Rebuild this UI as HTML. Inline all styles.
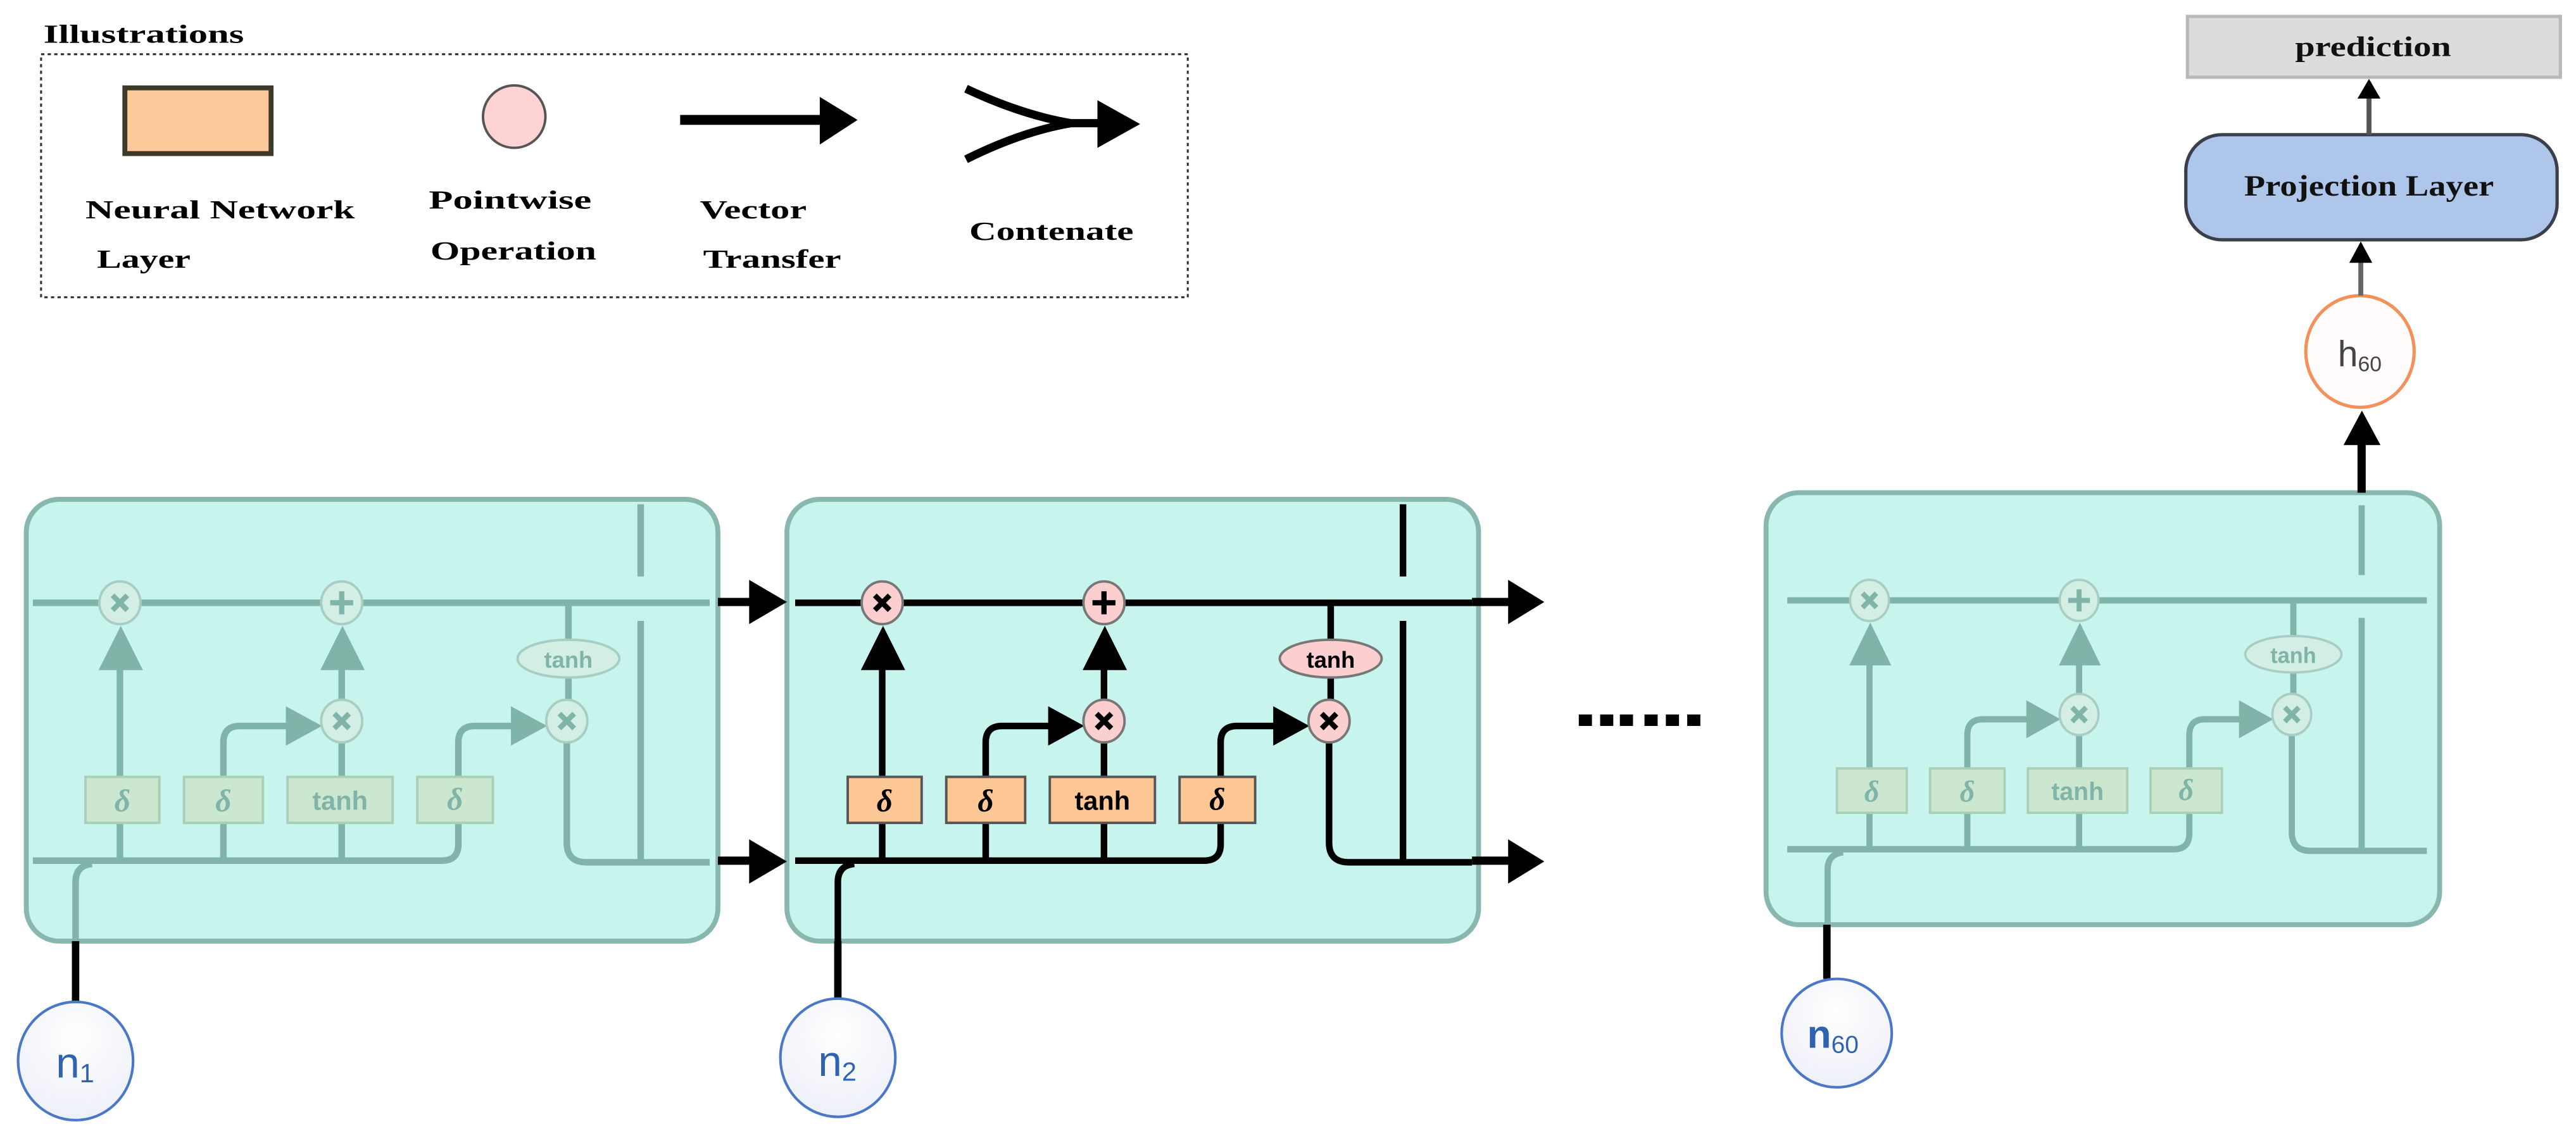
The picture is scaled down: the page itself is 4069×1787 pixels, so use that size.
<!DOCTYPE html>
<html><head><meta charset="utf-8"><style>
html,body{margin:0;padding:0;background:#fff;}
svg{display:block;}
.lg{font-family:"Liberation Serif",serif;font-weight:bold;font-size:16px;fill:#000;}
</style></head><body>
<svg width="4069" height="1787" viewBox="0 0 1568 688.6" xmlns="http://www.w3.org/2000/svg">
<defs>
<g id="cell">
 <g fill="none" stroke="var(--ln)" stroke-width="4">
  <path d="M484 367 H896"/>
  <path d="M484 524 H733 Q743 524 743 514 V501"/>
  <path d="M809 452 V513 Q809 525 821 525 H896"/>
  <path d="M810 367 V389"/>
  <path d="M810 412 V426"/>
  <path d="M854 307 V351"/>
  <path d="M854 378 V524"/>
  <path d="M537 524 V501 M537 473 V406"/>
  <path d="M600 524 V501 M600 473 V452 Q600 442 610 442 H640"/>
  <path d="M672 524 V501 M672 473 V452 M672 426 V406"/>
  <path d="M743 473 V452 Q743 442 753 442 H777"/>
  <path d="M510 600 V537 Q510 527 520 526"/>
 </g>
 <g fill="var(--ln)">
  <polygon points="524,408 551,408 537.5,381"/>
  <polygon points="659,408 686,408 672.5,381"/>
  <polygon points="638,430 638,454 660,442"/>
  <polygon points="775,430 775,454 797,442"/>
 </g>
 <g fill="var(--cf)" stroke="var(--cs)" stroke-width="1.5">
  <ellipse cx="537" cy="367" rx="12.5" ry="13"/>
  <ellipse cx="672" cy="367" rx="12.5" ry="13"/>
  <ellipse cx="672" cy="439" rx="12.5" ry="13"/>
  <ellipse cx="809" cy="439" rx="12.5" ry="13"/>
  <ellipse cx="810" cy="401" rx="31" ry="11.5"/>
 </g>
 <g stroke="var(--gl)" stroke-width="3.2" fill="none">
  <path d="M532.5 362.5 L541.5 371.5 M541.5 362.5 L532.5 371.5"/>
  <path d="M667.5 434.5 L676.5 443.5 M676.5 434.5 L667.5 443.5"/>
  <path d="M804.5 434.5 L813.5 443.5 M813.5 434.5 L804.5 443.5"/>
  <path d="M672 360 V374 M665 367 H679"/>
 </g>
 <g fill="var(--bf)" stroke="var(--bs)" stroke-width="1.5">
  <rect x="516" y="473" width="45" height="28"/>
  <rect x="576" y="473" width="48" height="28"/>
  <rect x="639" y="473" width="64" height="28"/>
  <rect x="718" y="473" width="46" height="28"/>
 </g>
 <g fill="var(--tx)" font-family="Liberation Serif,serif" font-weight="bold" font-style="italic" font-size="19" text-anchor="middle">
  <text x="538.5" y="494">δ</text>
  <text x="600" y="494">δ</text>
  <text x="741" y="493">δ</text>
 </g>
 <g fill="var(--tx)" font-family="Liberation Sans,sans-serif" font-weight="bold" text-anchor="middle">
  <text x="671" y="493" font-size="16">tanh</text>
  <text x="810" y="406.5" font-size="14">tanh</text>
 </g>
</g>
</defs>

<!-- Legend -->
<text class="lg" x="26.5" y="26" textLength="122" lengthAdjust="spacingAndGlyphs">Illustrations</text>
<rect x="25" y="33" width="698" height="148" fill="none" stroke="#333" stroke-width="1.2" stroke-dasharray="2,2"/>
<rect x="76" y="53.5" width="89" height="40" fill="#fec99a" stroke="#3d3a2a" stroke-width="3"/>
<ellipse cx="313" cy="71" rx="19" ry="19" fill="#fdd3d3" stroke="#555" stroke-width="1.5"/>
<path d="M414 73 H502" stroke="#000" stroke-width="6"/>
<polygon points="499,59 499,88 522,73" fill="#000"/>
<path d="M588 54 Q622 70 652 75 M588 97 Q622 80 652 75 M648 75 H672" stroke="#000" stroke-width="5" fill="none"/>
<polygon points="668,61 668,90 694,75.5" fill="#000"/>
<text class="lg" x="52" y="133" textLength="164" lengthAdjust="spacingAndGlyphs">Neural Network</text>
<text class="lg" x="59" y="163" textLength="57" lengthAdjust="spacingAndGlyphs">Layer</text>
<text class="lg" x="261" y="127" textLength="99" lengthAdjust="spacingAndGlyphs">Pointwise</text>
<text class="lg" x="262" y="158" textLength="101" lengthAdjust="spacingAndGlyphs">Operation</text>
<text class="lg" x="426" y="133" textLength="65" lengthAdjust="spacingAndGlyphs">Vector</text>
<text class="lg" x="428" y="163" textLength="84" lengthAdjust="spacingAndGlyphs">Transfer</text>
<text class="lg" x="590" y="146" textLength="100" lengthAdjust="spacingAndGlyphs">Contenate</text>

<!-- Cells -->
<rect x="16" y="304" width="421" height="269" rx="20" fill="#c7f5ee" stroke="#88b7ae" stroke-width="3"/>
<rect x="479" y="304" width="421" height="269" rx="20" fill="#c7f5ee" stroke="#88b7ae" stroke-width="3"/>
<rect x="1075" y="300" width="410" height="263" rx="20" fill="#c7f5ee" stroke="#88b7ae" stroke-width="3"/>

<use href="#cell" transform="translate(-464,0)" style="--ln:#80b4a9;--cf:#d2eee5;--cs:#a8cdc3;--gl:#80b4a9;--bf:#cbe7d0;--bs:#a9cfb9;--tx:#80b4a9"/>
<use href="#cell" style="--ln:#000;--cf:#fbcfcf;--cs:#777;--gl:#000;--bf:#fdc795;--bs:#555;--tx:#000"/>
<use href="#cell" transform="translate(630.5,11.4) scale(0.945,0.965)" style="--ln:#80b4a9;--cf:#d2eee5;--cs:#a8cdc3;--gl:#80b4a9;--bf:#cbe7d0;--bs:#a9cfb9;--tx:#80b4a9"/>

<!-- connecting arrows between cells -->
<path d="M437 366.5 H458 M437 524 H458" stroke="#000" stroke-width="5"/>
<polygon points="456,353 456,380 479,366.5" fill="#000"/>
<polygon points="456,511 456,538 479,524.5" fill="#000"/>
<path d="M896 366.5 H920 M896 524 H920" stroke="#000" stroke-width="5"/>
<polygon points="918,353 918,380 940,366.5" fill="#000"/>
<polygon points="918,511 918,538 940,524.5" fill="#000"/>

<!-- inputs -->
<path d="M46 610 V573" stroke="#000" stroke-width="4.5"/>
<path d="M510 608 V573" stroke="#000" stroke-width="4.5"/>
<path d="M1112 596 V563" stroke="#000" stroke-width="4.5"/>

<defs><radialGradient id="gc" cx="0.5" cy="0.3" r="0.7"><stop offset="0" stop-color="#ffffff"/><stop offset="1" stop-color="#eef0f8"/></radialGradient></defs>
<g fill="url(#gc)" stroke="#4a77c6" stroke-width="1.6">
 <ellipse cx="46" cy="646" rx="35" ry="36"/>
 <ellipse cx="510" cy="644" rx="35" ry="36"/>
 <ellipse cx="1118" cy="629" rx="33.5" ry="33"/>
</g>
<g fill="#2f63b0" font-family="Liberation Sans,sans-serif">
 <text x="34" y="656" font-size="26">n<tspan font-size="16" dy="3">1</tspan></text>
 <text x="498" y="655" font-size="26">n<tspan font-size="16" dy="3">2</tspan></text>
 <text x="1100" y="638" font-size="24" font-weight="bold">n<tspan font-size="15" dy="3" font-weight="normal">60</tspan></text>
</g>

<!-- dots -->
<g fill="#000">
 <rect x="961" y="435" width="8" height="7"/><rect x="974" y="435" width="8" height="7"/><rect x="986" y="435" width="8" height="7"/>
 <rect x="1001" y="435" width="8" height="7"/><rect x="1014" y="435" width="8" height="7"/><rect x="1027" y="435" width="8" height="7"/>
</g>

<!-- output chain -->
<path d="M1437.5 300 V268" stroke="#000" stroke-width="5"/>
<polygon points="1426.5,271 1449,271 1437.7,250" fill="#000"/>
<ellipse cx="1436.5" cy="214" rx="33" ry="34" fill="#fffcfb" stroke="#f2925a" stroke-width="2"/>
<text x="1423" y="223" font-family="Liberation Sans,sans-serif" font-size="22" fill="#444">h<tspan font-size="13" dy="3">60</tspan></text>
<path d="M1437 180 V158" stroke="#666" stroke-width="3"/>
<polygon points="1430,160 1444,160 1437,147" fill="#000"/>
<rect x="1330.5" y="82" width="226" height="64" rx="22" fill="#aec6ea" stroke="#3a3f4a" stroke-width="2"/>
<text x="1442" y="119" text-anchor="middle" font-family="Liberation Serif,serif" font-weight="bold" font-size="18" fill="#111" textLength="152" lengthAdjust="spacingAndGlyphs">Projection Layer</text>
<path d="M1442 82 V58" stroke="#555" stroke-width="3"/>
<polygon points="1435,60 1449,60 1442,48" fill="#000"/>
<rect x="1331.5" y="10" width="227" height="37" fill="#dcdcdc" stroke="#b8b8b8" stroke-width="2"/>
<text x="1444.5" y="34" text-anchor="middle" font-family="Liberation Serif,serif" font-weight="bold" font-size="17" fill="#111" textLength="95" lengthAdjust="spacingAndGlyphs">prediction</text>
</svg>
</body></html>
